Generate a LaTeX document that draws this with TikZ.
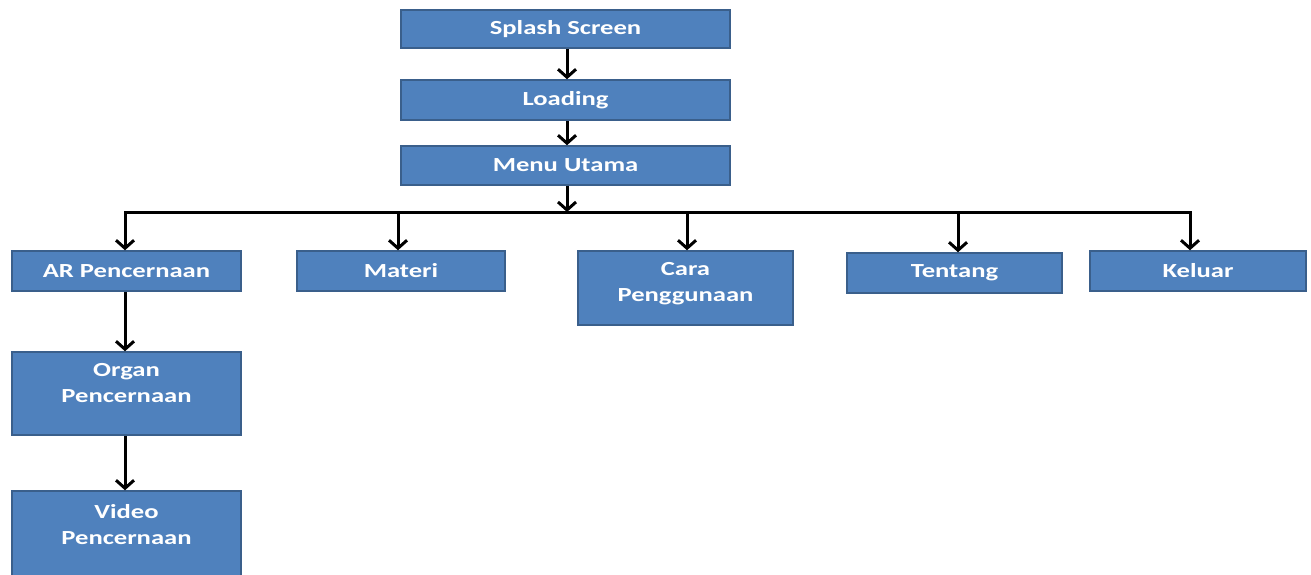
\documentclass[tikz,border=0pt]{standalone}
\usepackage{fontspec}
\setmainfont{Carlito}
\usepackage{graphicx}
\usetikzlibrary{arrows.meta}
\definecolor{boxfill}{HTML}{4F81BD}
\definecolor{boxline}{HTML}{3A5F8B}
\newcommand\wt[1]{\scalebox{1.33}[1]{#1}}
\tikzset{
  box/.style={rectangle, draw=boxline, line width=1.5pt, fill=boxfill, inner sep=0pt,
    text=white, font=\fontsize{20}{26}\selectfont\bfseries, align=center},
  lbl/.style={inner sep=0pt, text=white, font=\fontsize{20}{26}\selectfont\bfseries, align=center},
  arr/.style={line width=3pt, -{Straight Barb[length=8pt,width=18pt]}},
  ln/.style={line width=3pt}
}
\begin{document}
\begin{tikzpicture}[x=1pt,y=-1pt]
\useasboundingbox (0,0) rectangle (1311,574);
\clip (0,0) rectangle (1311,574);
\node[box, minimum width=329pt, minimum height=38pt] (splash) at (565.5,29) {\wt{Splash Screen}};
\node[box, minimum width=329pt, minimum height=40pt] (loading) at (565.5,100) {\wt{Loading}};
\node[box, minimum width=329pt, minimum height=39pt] (menu) at (565.5,165.5) {\wt{Menu Utama}};
\node[box, minimum width=229pt, minimum height=40pt] (ar) at (126.5,271) {\wt{AR Pencernaan}};
\node[box, minimum width=208pt, minimum height=40pt] (materi) at (401,271) {\wt{Materi}};
\node[box, minimum width=215pt, minimum height=74pt] (cara) at (685.5,288) {};
\node[lbl] (caraT) at ([yshift=4pt]cara.center) {\wt{Cara}\\\wt{Penggunaan}};
\node[box, minimum width=215pt, minimum height=40pt] (tentang) at (954.5,273) {\wt{Tentang}};
\node[box, minimum width=216pt, minimum height=40pt] (keluar) at (1198,271) {\wt{Keluar}};
\node[box, minimum width=229pt, minimum height=83pt] (organ) at (126.5,393.5) {};
\node[lbl] (organT) at ([yshift=10pt]organ.center) {\wt{Organ}\\\wt{Pencernaan}};
\node[box, minimum width=229pt, minimum height=90pt] (video) at (126.5,536) {};
\node[lbl] (videoT) at ([yshift=11pt]video.center) {\wt{Video}\\\wt{Pencernaan}};
\coordinate (hub) at (567,212);
\draw[arr] ([xshift=1.5pt]splash.south) -- ([xshift=1.5pt]loading.north);
\draw[arr] ([xshift=1.5pt]loading.south) -- ([xshift=1.5pt]menu.north);
\draw[arr] ([xshift=1.5pt]menu.south) -- (hub);
\draw[arr] (hub) -| ([xshift=-1.5pt]ar.north);
\draw[arr] (hub) -| ([xshift=-3pt]materi.north);
\draw[arr] (hub) -| ([xshift=1.5pt]cara.north);
\draw[arr] (hub) -| ([xshift=3.5pt]tentang.north);
\draw[arr] (hub) -| ([xshift=-8pt]keluar.north);
\draw[arr] ([xshift=-1.5pt]ar.south) -- ([xshift=-1.5pt]organ.north);
\draw[arr] ([xshift=-1.5pt]organ.south) -- ([xshift=-1.5pt]video.north);
\end{tikzpicture}
\end{document}
